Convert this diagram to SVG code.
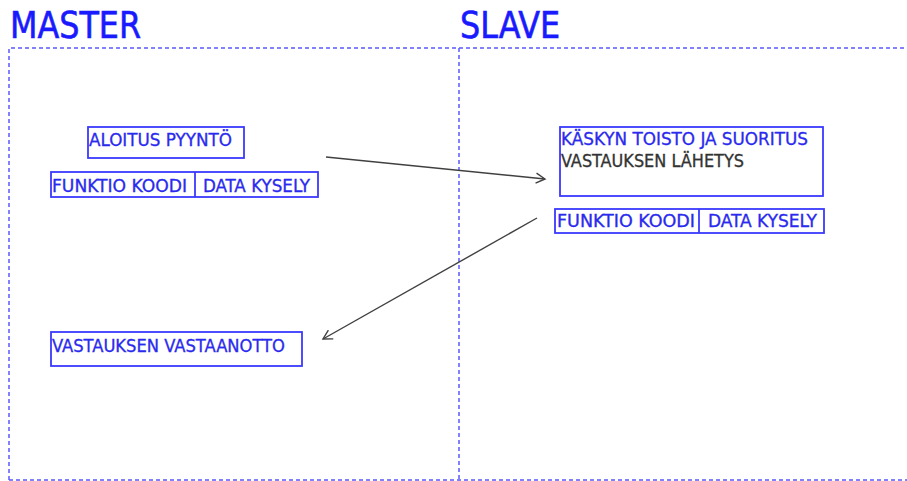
<svg xmlns="http://www.w3.org/2000/svg" width="907" height="481" viewBox="0 0 907 481">
<style>
.bg{fill:#ffffff}
.frame{fill:none;stroke:#5a5aff;stroke-width:1.5;stroke-dasharray:4 3}
.box{fill:none;stroke:#3a3aff;stroke-width:1.8}
.t{font-family:"DejaVu Sans Condensed","Liberation Sans",sans-serif;font-size:17.5px;fill:#2a2aee;stroke:#2a2aee;stroke-width:0.3}
.dk{fill:#333333;stroke:#333333}
.title{font-family:"DejaVu Sans Condensed","Liberation Sans",sans-serif;font-size:37px;fill:#1a1aff;stroke:#1a1aff;stroke-width:0.6}
.conn{fill:none;stroke:#404040;stroke-width:1.4}
</style>
<defs>
<marker id="arr" markerWidth="12" markerHeight="12" refX="10" refY="6" orient="auto" markerUnits="userSpaceOnUse">
<path d="M1,1 L10,6 L1,11" fill="none" stroke="#404040" stroke-width="1.4"/>
</marker>
</defs>
<rect class="bg" width="907" height="481"/>
<g id="lanes">
<path class="frame" d="M9,480 V48 H907 M459,48 V480 M9,480 H907"/>
<text class="title" x="10" y="38" textLength="131" lengthAdjust="spacingAndGlyphs">MASTER</text>
<text class="title" x="460" y="38" textLength="100" lengthAdjust="spacingAndGlyphs">SLAVE</text>
</g>
<g id="aloitus">
<rect class="box" x="88" y="127" width="156" height="31"/>
<text class="t" x="89" y="146" textLength="143" lengthAdjust="spacingAndGlyphs">ALOITUS PYYNTÖ</text>
</g>
<g id="master-frame">
<rect class="box" x="51" y="172" width="267" height="25"/>
<line class="box" x1="195" y1="172" x2="195" y2="197"/>
<text class="t" x="52" y="192" textLength="135" lengthAdjust="spacingAndGlyphs">FUNKTIO KOODI</text>
<text class="t" x="203" y="192" textLength="107" lengthAdjust="spacingAndGlyphs">DATA KYSELY</text>
</g>
<g id="kaskyn">
<rect class="box" x="560" y="127" width="263" height="69"/>
<text class="t" x="561" y="145" textLength="247" lengthAdjust="spacingAndGlyphs">KÄSKYN TOISTO JA SUORITUS</text>
<text class="t dk" x="561" y="167" textLength="183" lengthAdjust="spacingAndGlyphs">VASTAUKSEN LÄHETYS</text>
</g>
<g id="slave-frame">
<rect class="box" x="555" y="209" width="269" height="24"/>
<line class="box" x1="699" y1="209" x2="699" y2="233"/>
<text class="t" x="557" y="227" textLength="138" lengthAdjust="spacingAndGlyphs">FUNKTIO KOODI</text>
<text class="t" x="708" y="227" textLength="109" lengthAdjust="spacingAndGlyphs">DATA KYSELY</text>
</g>
<g id="vastaanotto">
<rect class="box" x="51" y="332" width="251" height="34"/>
<text class="t" x="52" y="352" textLength="233" lengthAdjust="spacingAndGlyphs">VASTAUKSEN VASTAANOTTO</text>
</g>
<g id="connectors">
<line class="conn" x1="326" y1="157" x2="545" y2="179" marker-end="url(#arr)"/>
<line class="conn" x1="537" y1="218" x2="323" y2="339" marker-end="url(#arr)"/>
</g>
</svg>
